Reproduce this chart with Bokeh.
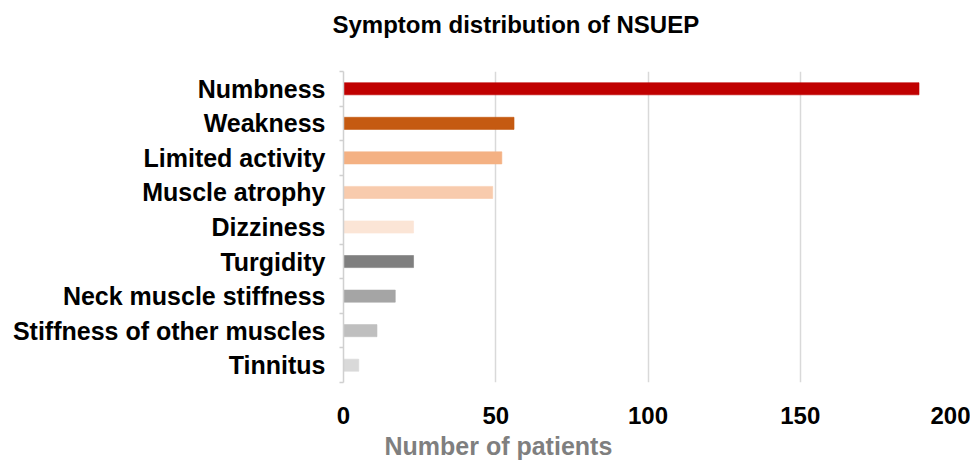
from bokeh.plotting import figure
from bokeh.models import ColumnDataSource, FixedTicker, Range1d, Title
from bokeh.embed import file_html
from bokeh.resources import INLINE

categories = ["Numbness", "Weakness", "Limited activity", "Muscle atrophy", "Dizziness",
              "Turgidity", "Neck muscle stiffness", "Stiffness of other muscles", "Tinnitus"]
patients = [189, 56, 52, 49, 23, 23, 17, 11, 5]
colors = ["#C00000", "#C55A11", "#F4B183", "#F8CBAD", "#FBE5D6",
          "#7F7F7F", "#A5A5A5", "#BFBFBF", "#D9D9D9"]
x_ticks = [0, 50, 100, 150, 200]

n = len(categories)
ypos = [n - i - 0.5 for i in range(n)]
source = ColumnDataSource(dict(y=ypos, v=patients, c=colors, name=categories))

FONT = "Liberation Sans"

p = figure(width=970, height=472, output_backend="svg", toolbar_location=None,
           x_range=Range1d(0, 200), y_range=Range1d(0, n),
           min_border_left=343, min_border_right=18, min_border_top=71, min_border_bottom=90)
p.outline_line_color = None
p.background_fill_color = "white"
p.border_fill_color = "white"

p.hbar(y="y", right="v", left=0, height=0.35, fill_color="c", line_color="c",
       line_alpha=0.6, source=source)

# x axis
p.xaxis.ticker = FixedTicker(ticks=x_ticks)
p.xaxis.axis_line_color = None
p.xaxis.major_tick_line_color = None
p.xaxis.minor_tick_line_color = None
p.xaxis.major_label_text_font = FONT
p.xaxis.major_label_text_font_style = "bold"
p.xaxis.major_label_text_font_size = "24px"
p.xaxis.major_label_text_color = "black"
p.xaxis.major_label_standoff = 18

# y axis
p.yaxis.ticker = FixedTicker(ticks=ypos, minor_ticks=list(range(n + 1)))
p.yaxis.major_label_overrides = {y: c for y, c in zip(ypos, categories)}
p.yaxis.major_label_text_font = FONT
p.yaxis.major_label_text_font_style = "bold"
p.yaxis.major_label_text_font_size = "25px"
p.yaxis.major_label_text_color = "black"
p.yaxis.major_label_standoff = 14
p.yaxis.major_tick_line_color = None
p.yaxis.major_tick_out = 0
p.yaxis.major_tick_in = 0
p.yaxis.minor_tick_line_color = "#d0d0d0"
p.yaxis.minor_tick_line_width = 1.5
p.yaxis.minor_tick_out = 4
p.yaxis.minor_tick_in = 0
p.yaxis.axis_line_color = "#d0d0d0"
p.yaxis.axis_line_width = 1.5

p.xgrid.ticker = FixedTicker(ticks=x_ticks[1:])
p.xgrid.grid_line_color = "#d9d9d9"
p.xgrid.grid_line_width = 1.5
p.ygrid.grid_line_color = None

# spacer between frame and title, then the title itself
spacer = Title(text=" ", text_font_size="1px", standoff=31)
p.add_layout(spacer, "above")
main_title = Title(text="Symptom distribution of NSUEP", align="left", offset=-11,
                   text_font=FONT, text_font_style="bold", text_font_size="24px",
                   text_color="black", standoff=0)
p.add_layout(main_title, "above")

xlabel = Title(text="Number of patients", align="left", offset=41,
               text_font=FONT, text_font_style="bold", text_font_size="25px",
               text_color="#7f7f7f", standoff=7)
p.add_layout(xlabel, "below")

open("out.html", "w").write(file_html(p, INLINE))
